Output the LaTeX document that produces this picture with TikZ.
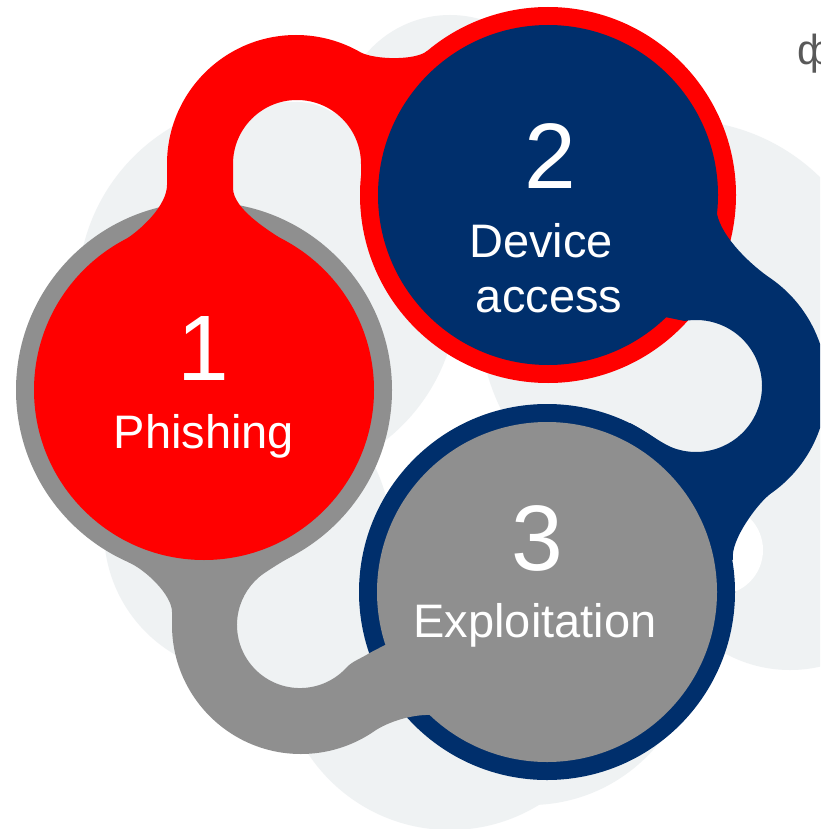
\documentclass[tikz,border=0pt]{standalone}
\usepackage{fontspec}
\setmainfont{Liberation Sans}
\definecolor{cred}{HTML}{FF0000}
\definecolor{cnavy}{HTML}{002F6C}
\definecolor{cgray}{HTML}{8F8F8F}
\definecolor{clight}{HTML}{EFF2F3}
\definecolor{ctxt}{HTML}{595959}
\tikzset{
  mydisk/.style={circle, inner sep=0pt, outer sep=0pt, minimum size=#1},
  lbl/.style={text=white, inner sep=0pt, anchor=base},
  bignum/.style={lbl, font=\fontsize{93}{93}\selectfont},
  word/.style={lbl, font=\fontsize{47}{47}\selectfont},
}
\begin{document}
\begin{tikzpicture}[x=1pt,y=-1pt]
\useasboundingbox (0,0) rectangle (820,829);
\clip (0,0) rectangle (820,829);
\fill[white] (0,0) rectangle (820,829);

% light background shapes
\fill[clight] (268,291) circle[radius=190];
\fill[clight] (450,125) circle[radius=110];
\fill[clight] (680,320) circle[radius=200];
\fill[clight] (790,535) circle[radius=135];
\fill[white] (718,550) circle[radius=45];
\fill[clight] (247,531) circle[radius=143];
\fill[clight] (450,660) circle[radius=170];
\fill[clight] (530,640) circle[radius=165];
\fill[clight] (297,166) circle[radius=64];
\fill[clight] (696,386) circle[radius=67];
\fill[clight] (300,625) circle[radius=64];

% circle 1 ring
\node[mydisk=376pt, fill=cgray] (c1ring) at (204,390) {};

% red loop (circle 1 -> circle 2)
\fill[cred] (120,243) .. controls (142,230) and (167,205) .. (167,185)
  -- (167,164) arc[start angle=180, end angle=300, radius=129]
  .. controls (374.5,59.8) and (415.5,60.7) .. (427,51)
  -- (450,100) -- (400,230) -- (361,200) -- (361,164)
  arc[start angle=0, end angle=-180, radius=64]
  -- (233,188) .. controls (233,210) and (271.7,232.8) .. (293,246)
  -- (204,300) -- cycle;

% circle 2
\node[mydisk=376pt, fill=cred] (c2ring) at (548,195) {};
\node[mydisk=340pt, fill=cnavy] (c2) at (548,195) {};

% navy loop (circle 2 -> circle 3)
\fill[cnavy] (717,214) .. controls (722,238) and (752,266) .. (771.1,278.7)
  arc[start angle=-55, end angle=55, radius=131]
  .. controls (758.8,501.9) and (729.6,540.3) .. (733,560)
  -- (640,520) -- (630,423)
  .. controls (640.8,428.3) and (662.1,443.9) .. (673.4,448)
  arc[start angle=110, end angle=-100, radius=66]
  -- (660,316) -- (640,290) -- (690,225) -- cycle;

% circle 3
\node[mydisk=376pt, fill=cnavy] (c3ring) at (547,592) {};
\node[mydisk=340pt, fill=cgray] (c3) at (547,592) {};

% gray loop (circle 3 -> circle 1)
\fill[cgray] (128,562) .. controls (146,570) and (172,595) .. (172,612)
  -- (172,625) arc[start angle=180, end angle=55, radius=129]
  .. controls (388,722) and (412,714) .. (432,715)
  -- (460,660) -- (385,645) -- (369.2,653.2)
  .. controls (362,658) and (352.2,661.3) .. (346.8,667.2)
  arc[start angle=42, end angle=235, radius=63]
  .. controls (275,566) and (283,561) .. (295,554.5)
  -- (250,450) -- (150,500) -- cycle;

% circle 1 fill
\node[mydisk=340pt, fill=cred] (c1) at (204,390) {};

% labels
\node[bignum] (n1) at (203,380) {1};
\node[word] (t1) at (204,448) {Phishing};
\node[bignum] (n2) at (550,188) {2};
\node[word] (t2a) at (541,257) {Device};
\node[word] (t2b) at (549,312) {access};
\node[bignum] (n3) at (537,570) {3};
\node[word] (t3) at (535,637) {Exploitation};

% clipped text at top right
\node[text=ctxt, inner sep=0pt, anchor=base west, font=\fontsize{42}{42}\selectfont] (corner) at (797,65) {ф};
\end{tikzpicture}
\end{document}
